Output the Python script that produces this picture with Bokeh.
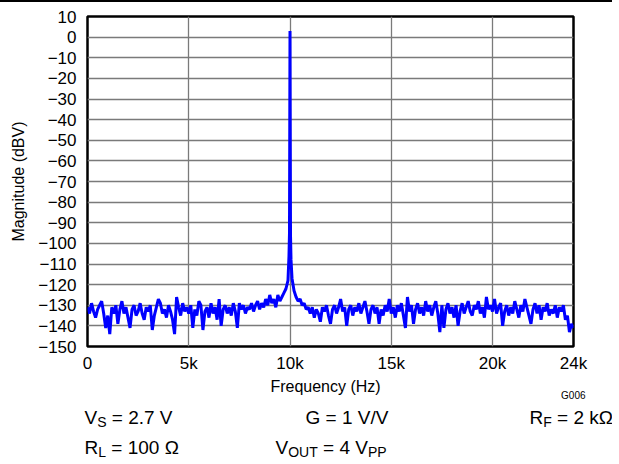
from bokeh.plotting import figure
from bokeh.models import Range1d, FixedTicker, Div
from bokeh.layouts import column
from bokeh.core.properties import value
from bokeh.embed import file_html
from bokeh.resources import INLINE
import numpy as np

# ---------------- data ----------------
step_hz = 100
mag_dbv = [
    -131, -134, -129, -133, -136, -132, -130, -128, -134, -141,   # 0k
    -135, -144, -131, -134, -130, -139, -132, -128, -134, -131,   # 1k
    -136, -141, -132, -130, -135, -133, -129, -134, -137, -131,   # 2k
    -133, -130, -142, -135, -131, -127, -129, -134, -132, -136,   # 3k
    -130, -133, -137, -144, -126, -131, -135, -129, -133, -131,   # 4k
    -134, -130, -141, -132, -135, -128, -130, -142, -133, -131,   # 5k
    -136, -129, -134, -131, -137, -127, -140, -132, -130, -134,   # 6k
    -131, -135, -129, -133, -141, -129, -132, -130, -134, -131,   # 7k
    -132, -129, -133, -130, -128, -132, -129, -131, -127, -130,   # 8k
    -125, -129, -127, -131, -125, -128, -126, -124, -122, -118,   # 9k
    3, -117, -123, -126, -128, -127, -130, -129, -132, -131,      # 10k
    -134, -131, -136, -132, -134, -138, -131, -133, -130, -135,   # 11k
    -139, -132, -130, -134, -131, -127, -133, -131, -140, -132,   # 12k
    -130, -135, -131, -133, -129, -134, -131, -128, -133, -139,   # 13k
    -132, -130, -134, -131, -139, -132, -135, -130, -133, -127,   # 14k
    -134, -131, -136, -130, -133, -129, -135, -141, -126, -133,   # 15k
    -130, -139, -132, -129, -134, -131, -135, -128, -133, -130,   # 16k
    -135, -131, -128, -134, -143, -130, -141, -132, -129, -134,   # 17k
    -131, -136, -130, -140, -133, -129, -134, -131, -128, -133,   # 18k
    -135, -130, -132, -128, -134, -131, -136, -126, -132, -130,   # 19k
    -133, -127, -134, -131, -129, -140, -133, -130, -135, -131,   # 20k
    -134, -128, -132, -136, -130, -133, -127, -131, -135, -139,   # 21k
    -132, -129, -134, -130, -137, -131, -133, -129, -135, -132,   # 22k
    -134, -130, -136, -131, -133, -130, -137, -135, -143, -139,   # 23k
    -141,                                                         # 24k
]
# finer samples around the 10 kHz tone
peak_freq = [9950, 9975, 10025, 10050]
peak_mag = [-106, -95, -96, -108]

x_ticks = [0, 5000, 10000, 15000, 20000, 24000]
x_tick_labels = ["0", "5k", "10k", "15k", "20k", "24k"]
y_ticks = list(range(-150, 11, 10))
y_tick_labels = [("\u2212" + str(-v)) if v < 0 else str(v) for v in y_ticks]

freq = list(np.arange(len(mag_dbv)) * step_hz) + peak_freq
mag = mag_dbv + peak_mag
order = np.argsort(freq)
freq = np.array(freq)[order]
mag = np.array(mag)[order]

FONT = "Liberation Sans"
W = 612

# ---------------- thin rule at the top of the page ----------------
t = Div(text="", width=W, height=2, margin=0,
        styles={"background-color": "black"})

# ---------------- main chart ----------------
H1 = 374
p = figure(width=W, height=H1, output_backend="svg", toolbar_location=None,
           x_range=Range1d(0, 24000), y_range=Range1d(-150, 10),
           min_border_left=87, min_border_right=39, min_border_top=14,
           min_border_bottom=30)
p.frame_align = False
p.background_fill_color = "white"
p.border_fill_color = "white"
p.outline_line_color = "black"
p.outline_line_width = 2.5

p.line(freq, mag, line_color="#0000FF", line_width=3)

for ax in (p.xaxis[0], p.yaxis[0]):
    ax.axis_line_color = None
    ax.major_tick_line_color = None
    ax.minor_tick_line_color = None
    ax.major_label_text_font = FONT
    ax.major_label_text_color = "black"
    ax.axis_label_text_font = FONT
    ax.axis_label_text_font_style = "normal"
    ax.axis_label_text_color = "black"

p.xaxis.ticker = FixedTicker(ticks=x_ticks)
p.xaxis.major_label_overrides = dict(zip(x_ticks, x_tick_labels))
p.xaxis.major_label_text_font_size = "17px"
p.xaxis.major_label_standoff = 1

p.yaxis.ticker = FixedTicker(ticks=y_ticks)
p.yaxis.major_label_overrides = dict(zip(y_ticks, y_tick_labels))
p.yaxis.major_label_text_font_size = "17px"
p.yaxis.major_label_standoff = 5
p.yaxis.axis_label = "Magnitude (dBV)"
p.yaxis.axis_label_text_font_size = "16px"
p.yaxis.axis_label_standoff = 8

p.xgrid.ticker = FixedTicker(ticks=[5000, 10000, 15000, 20000])
p.ygrid.ticker = FixedTicker(ticks=y_ticks[1:-1])
for g in (p.xgrid[0], p.ygrid[0]):
    g.grid_line_color = "#7a7a7a"
    g.grid_line_width = 1.3

# ---------------- strip under the chart: axis title, id, test conditions ----------------
OX, OY = 1, 2 + H1 + 1          # page position of the strip's top-left corner
H2 = 86
q = figure(width=W, height=H2, output_backend="svg", toolbar_location=None,
           x_range=Range1d(OX, OX + W), y_range=Range1d(OY + H2, OY),
           min_border=0, min_border_left=0, min_border_right=0,
           min_border_top=0, min_border_bottom=0)
q.frame_align = False
q.axis.visible = False
q.grid.visible = False
q.outline_line_color = None
q.background_fill_color = "white"
q.border_fill_color = "white"

BIG, SUB = 19, 14
NB = "\u00a0"
pieces = {BIG: ([], [], []), SUB: ([], [], [])}

def put(text, px, py, size):
    xs, ys, ts = pieces[size]
    xs.append(px); ys.append(py); ts.append(text)

def w(em, size):
    return em * size

r1, r2 = 418, 448
x = 85
put("V", x, r1, BIG); x += w(0.667, BIG)
put("S", x, r1 + 4, SUB); x += w(0.667, SUB)
put(NB + "= 2.7 V", x, r1, BIG)
put("G = 1 V/V", 306, r1, BIG)
x = 530
put("R", x, r1, BIG); x += w(0.722, BIG)
put("F", x, r1 + 4, SUB); x += w(0.611, SUB)
put(NB + "= 2 k\u03a9", x, r1, BIG)
x = 85
put("R", x, r2, BIG); x += w(0.722, BIG)
put("L", x, r2 + 4, SUB); x += w(0.556, SUB)
put(NB + "= 100 \u03a9", x, r2, BIG)
x = 276
put("V", x, r2, BIG); x += w(0.667, BIG)
put("OUT", x, r2 + 4, SUB); x += w(2.111, SUB)
put(NB + "= 4 V", x, r2, BIG); x += w(2.641, BIG)
put("PP", x, r2 + 4, SUB)

for size, (xs, ys, ts) in pieces.items():
    q.text(x=xs, y=ys, text=ts, text_font=value(FONT),
           text_font_size=f"{size}px", text_color="black",
           text_align="left", text_baseline="alphabetic")

q.text(x=[326], y=[387], text=["Frequency (Hz)"], text_font=value(FONT),
       text_font_size="16px", text_color="black",
       text_align="center", text_baseline="alphabetic")
q.text(x=[586], y=[396], text=["G006"], text_font=value(FONT),
       text_font_size="10px", text_color="black",
       text_align="right", text_baseline="middle")

layout = column(t, p, q, spacing=0)
open("out.html", "w").write(file_html(layout, INLINE))
